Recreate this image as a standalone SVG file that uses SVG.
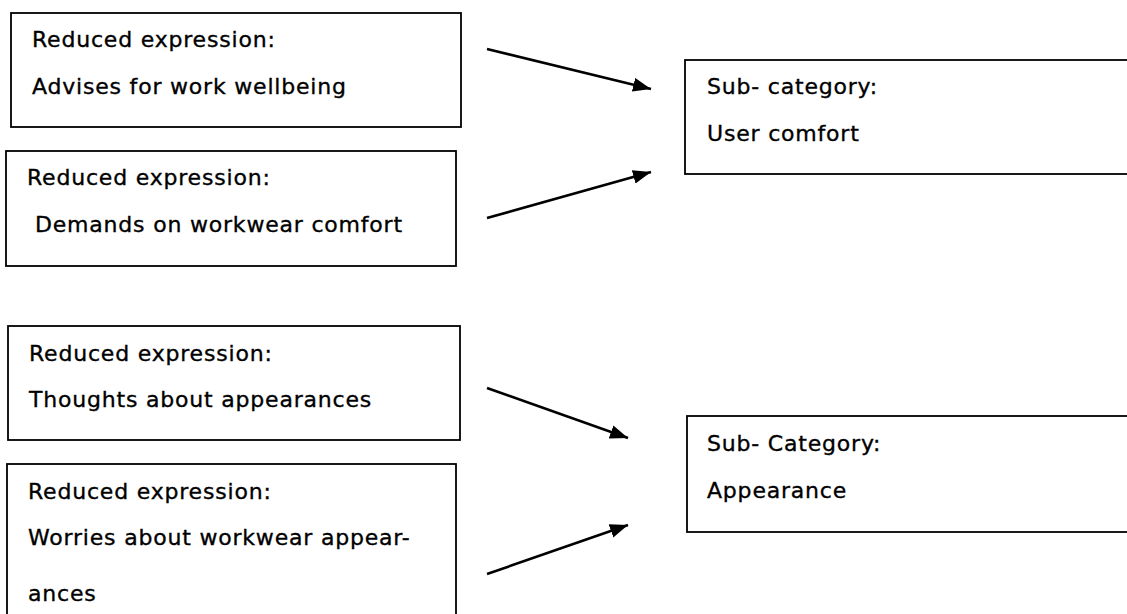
<svg xmlns="http://www.w3.org/2000/svg" width="1127" height="614" viewBox="0 0 1127 614">
<style>
.box{fill:#fff;stroke:#000;stroke-width:1.8}
.t{font-family:"DejaVu Sans",sans-serif;font-size:22px;letter-spacing:0.8px;fill:#000;stroke:#000;stroke-width:0.35px}
.arr{stroke:#000;stroke-width:2.6;fill:none;marker-end:url(#ah)}
</style>
<defs>
<marker id="ah" markerUnits="userSpaceOnUse" markerWidth="19" markerHeight="15" refX="18" refY="7" orient="auto">
<path d="M0,0 L18,7 L0,14 z" fill="#000"/>
</marker>
</defs>
<rect width="1127" height="614" fill="#fff"/>
<g id="nodeA">
<rect class="box" x="11" y="13" width="450" height="114"/>
<text class="t" x="32" y="47">Reduced expression:</text>
<text class="t" x="32" y="94">Advises for work wellbeing</text>
</g>
<g id="nodeB">
<rect class="box" x="6" y="151" width="450" height="115"/>
<text class="t" x="27" y="185">Reduced expression:</text>
<text class="t" x="35" y="232">Demands on workwear comfort</text>
</g>
<g id="nodeC">
<rect class="box" x="8" y="326" width="452" height="114"/>
<text class="t" x="29" y="361">Reduced expression:</text>
<text class="t" x="29" y="407">Thoughts about appearances</text>
</g>
<g id="nodeD">
<rect class="box" x="7" y="464" width="449" height="170"/>
<text class="t" x="28" y="499">Reduced expression:</text>
<text class="t" x="28" y="545">Worries about workwear appear-</text>
<text class="t" x="28" y="601">ances</text>
</g>
<g id="nodeE">
<rect class="box" x="685" y="60" width="460" height="114"/>
<text class="t" x="707" y="94">Sub- category:</text>
<text class="t" x="707" y="141">User comfort</text>
</g>
<g id="nodeF">
<rect class="box" x="687" y="416" width="460" height="116"/>
<text class="t" x="707" y="451">Sub- Category:</text>
<text class="t" x="707" y="498">Appearance</text>
</g>
<g id="connectors">
<line class="arr" x1="487" y1="49" x2="651" y2="89"/>
<line class="arr" x1="487" y1="218" x2="651" y2="172"/>
<line class="arr" x1="487" y1="388" x2="628" y2="438"/>
<line class="arr" x1="487" y1="574" x2="628" y2="525"/>
</g>
</svg>
